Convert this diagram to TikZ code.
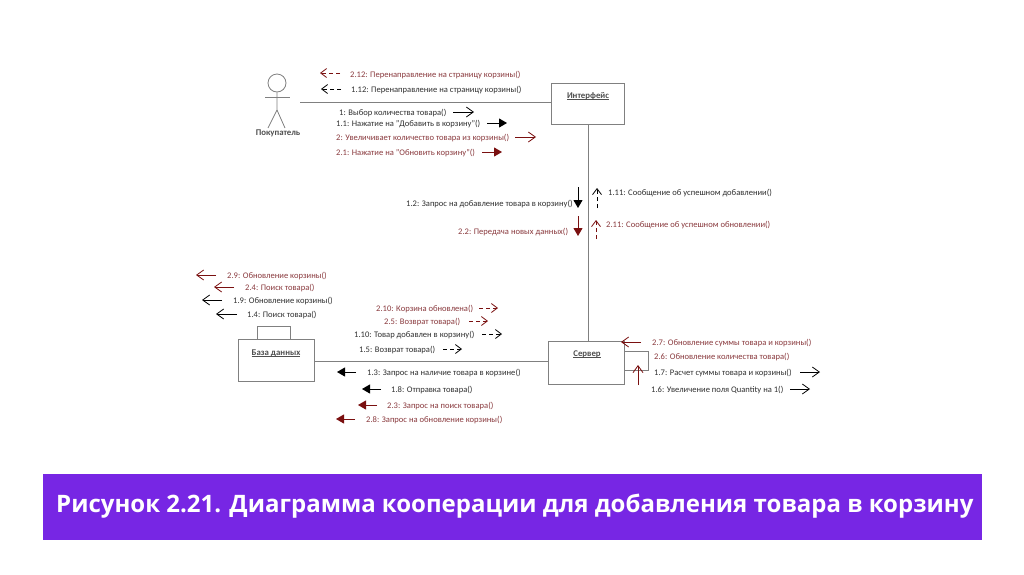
\documentclass[tikz,border=0pt]{standalone}
\usepackage{fontspec}
\setmainfont{Carlito}
\newfontfamily\titlefont{Open Sans}
\usetikzlibrary{arrows.meta}
\definecolor{dred}{HTML}{7A1010}
\definecolor{tred}{HTML}{8A3A3E}
\definecolor{tblk}{HTML}{303030}
\definecolor{ln}{HTML}{808080}
\definecolor{banner}{HTML}{7726E4}
\newcommand{\ubox}[1]{\setbox0\hbox{#1}\rlap{\rule[-1.4pt]{\wd0}{0.45pt}}\box0}
\tikzset{
  x=1pt,y=-1pt,
  conn/.style={draw=ln,line width=0.8pt},
  box/.style={draw=ln,line width=0.8pt,fill=white,minimum width=#1,inner sep=0pt,anchor=north west},
  lbl/.style={font=\fontsize{8.8}{9}\selectfont\bfseries,text=tblk!85,inner sep=0pt},
  blk/.style={font=\fontsize{8.55}{9}\selectfont,text=tblk,inner sep=0pt,anchor=base west},
  rtx/.style={font=\fontsize{8.55}{9}\selectfont,text=tred,inner sep=0pt,anchor=base west},
  opn/.style={-{Straight Barb[length=7pt,width=10pt,line width=0.8pt]},line width=0.8pt},
  sol/.style={-{Triangle[length=8pt,width=9pt]},line width=1pt},
  dsh/.style={-{Straight Barb[length=6pt,width=9pt,line width=0.8pt]},line width=0.9pt,dash pattern=on 4pt off 3pt},
}
% \msg{name}{x}{y}{style}{text}  (y = visual middle of the line)
\newcommand{\msg}[5]{\node[#4] (#1) at (#2,#3+3) {#5};}
% \arw{name}{x1}{y1}{x2}{y2}{style}
\newcommand{\arw}[6]{\coordinate (#1s) at (#2,#3);\coordinate (#1e) at (#4,#5);\draw[#6] (#1s) -- (#1e);}
\begin{document}
\begin{tikzpicture}
\useasboundingbox (0,0) rectangle (1024,574);
\fill[white] (0,0) rectangle (1024,574);
% actor
\node[circle,draw=ln,line width=0.8pt,minimum size=18pt,inner sep=0pt] (head) at (277,83) {};
\coordinate (hip) at (277,110);
\coordinate (armL) at (265,97);
\coordinate (armR) at (290,97);
\coordinate (legL) at (268,128);
\coordinate (legR) at (285,128);
\draw[conn] (head) -- (hip) -- (legL);
\draw[conn] (hip) -- (legR);
\draw[conn] (armL) -- (armR);
\node[lbl] (actor) at (278,133) {Покупатель};
\coordinate (actorEnd) at (300,102);
% boxes
\node[box=73pt,minimum height=41pt] (iface) at (551,83) {};
\node[lbl] (ifaceL) at (588,96) {\ubox{Интерфейс}};
\node[box=76pt,minimum height=43pt] (server) at (548,341) {};
\node[lbl] (serverL) at (587,354) {\ubox{Сервер}};
\node[box=33pt,minimum height=13pt] (tab) at (257,326) {};
\node[box=76pt,minimum height=42pt] (db) at (238,339) {};
\node[lbl] (dbL) at (276,353) {\ubox{База данных}};
% links
\coordinate (ifaceIn) at (551,102);
\draw[conn] (actorEnd) -- (ifaceIn);
\coordinate (ifC) at (588,124);
\coordinate (svT) at (588,341);
\draw[conn] (ifC) -- (svT);
\coordinate (dbOut) at (314,361);
\coordinate (svIn) at (548,361);
\draw[conn] (dbOut) -- (svIn);
\coordinate (lA) at (624,351);\coordinate (lB) at (648,351);\coordinate (lC) at (648,370);\coordinate (lD) at (624,370);
\draw[conn] (lA) -- (lB) -- (lC) -- (lD);
% messages top
\msg{m212}{350}{74}{rtx}{2.12: Перенаправление на страницу корзины()}
\arw{a212}{340}{73}{320}{73}{dsh,dred}
\msg{m112}{351}{89}{blk}{1.12: Перенаправление на страницу корзины()}
\arw{a112}{341}{89}{321}{89}{dsh,black}
\msg{m1}{339}{112}{blk}{1: Выбор количества товара()}
\arw{a1}{453}{112}{474}{112}{opn,black}
\msg{m11}{336}{123}{blk}{1.1: Нажатие на "Добавить в корзину"()}
\arw{a11}{487}{123}{507}{123}{sol,black}
\msg{m2}{336}{137}{rtx}{2: Увеличивает количество товара из корзины()}
\arw{a2}{515}{137}{536}{137}{opn,dred}
\msg{m21}{336}{152}{rtx}{2.1: Нажатие на "Обновить корзину"()}
\arw{a21}{482}{152}{502}{152}{sol,dred}
% middle
\msg{m12}{406}{203}{blk}{1.2: Запрос на добавление товара в корзину()}
\arw{a12}{578}{187}{578}{208}{sol,black}
\msg{m22}{458}{231}{rtx}{2.2: Передача новых данных()}
\arw{a22}{578}{216}{578}{236}{sol,dred}
\msg{m111}{608}{192}{blk}{1.11: Сообщение об успешном добавлении()}
\arw{a111}{597}{208}{597}{188}{dsh,black}
\msg{m211}{606}{224}{rtx}{2.11: Сообщение об успешном обновлении()}
\arw{a211}{596}{239}{596}{220}{dsh,dred}
% left
\msg{m29}{227}{275}{rtx}{2.9: Обновление корзины()}
\arw{a29}{216}{275}{196}{275}{opn,dred}
\msg{m24}{245}{287}{rtx}{2.4: Поиск товара()}
\arw{a24}{234}{287}{214}{287}{opn,dred}
\msg{m19}{233}{300}{blk}{1.9: Обновление корзины()}
\arw{a19}{222}{300}{202}{300}{opn,black}
\msg{m14}{247}{314}{blk}{1.4: Поиск товара()}
\arw{a14}{237}{314}{216}{314}{opn,black}
\msg{m210}{376}{308}{rtx}{2.10: Корзина обновлена()}
\arw{a210}{479}{308}{498}{308}{dsh,dred}
\msg{m25}{384}{321}{rtx}{2.5: Возврат товара()}
\arw{a25}{469}{321}{488}{321}{dsh,dred}
\msg{m110}{354}{334}{blk}{1.10: Товар добавлен в корзину()}
\arw{a110}{482}{334}{502}{334}{dsh,black}
\msg{m15}{359}{349}{blk}{1.5: Возврат товара()}
\arw{a15}{443}{349}{462}{349}{dsh,black}
\msg{m13}{367}{372}{blk}{1.3: Запрос на наличие товара в корзине()}
\arw{a13}{356}{372}{337}{372}{sol,black}
\msg{m18}{391}{389}{blk}{1.8: Отправка товара()}
\arw{a18}{381}{389}{362}{389}{sol,black}
\msg{m23}{387}{405}{rtx}{2.3: Запрос на поиск товара()}
\arw{a23}{377}{405}{358}{405}{sol,dred}
\msg{m28}{366}{419}{rtx}{2.8: Запрос на обновление корзины()}
\arw{a28}{355}{419}{336}{419}{sol,dred}
% right
\msg{m27}{652}{342}{rtx}{2.7: Обновление суммы товара и корзины()}
\arw{a27}{641}{342}{621}{342}{opn,dred}
\msg{m26}{654}{356}{rtx}{2.6: Обновление количества товара()}
\arw{a26}{638}{385}{638}{365}{opn,dred}
\msg{m17}{654}{372}{blk}{1.7: Расчет суммы товара и корзины()}
\arw{a17}{800}{372}{820}{372}{opn,black}
\msg{m16}{651}{389}{blk}{1.6: Увеличение поля Quantity на 1()}
\arw{a16}{790}{389}{810}{389}{opn,black}
% banner
\node[fill=banner,minimum width=939pt,minimum height=66pt,inner sep=0pt,anchor=north west] (band) at (43,474) {};
\node[font=\titlefont\fontsize{24}{26}\selectfont\bfseries,text=white,inner sep=0pt,anchor=west] (title) at (56,506) {Рисунок 2.21. Диаграмма кооперации для добавления товара в корзину};
\end{tikzpicture}
\end{document}
